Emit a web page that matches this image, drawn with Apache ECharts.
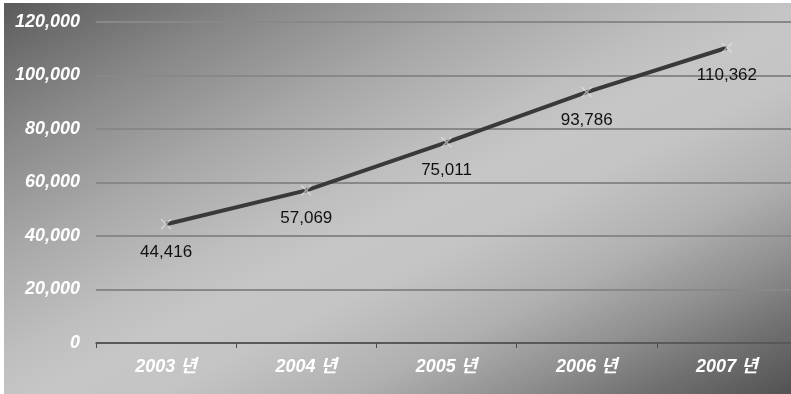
<!DOCTYPE html>
<html>
<head>
<meta charset="utf-8">
<script src="https://cdn.jsdelivr.net/npm/echarts@6/dist/echarts.min.js"></script>
<style>
html,body{margin:0;padding:0;background:#ffffff;}
#chart{width:791px;height:394px;}
</style>
</head>
<body>
<div id="chart"></div>
<script>
const categories = ['2003 년', '2004 년', '2005 년', '2006 년', '2007 년'];
const values = [44416, 57069, 75011, 93786, 110362];
const yMin = 0;
const yMax = 120000;
const yInterval = 20000;

const FONT = '"Liberation Sans", Arial, "Noto Sans CJK KR", sans-serif';
const chart = echarts.init(document.getElementById('chart'), null, {renderer: 'canvas'});

const option = {
  animation: false,
  graphic: [{
    type: 'rect',
    z: -100,
    silent: true,
    shape: {x: 4, y: 3, width: 787, height: 391},
    style: {
      fill: new echarts.graphic.LinearGradient(4, 3, 315.6, 630.2, [
        {offset: 0, color: '#5a5a5a'},
        {offset: 0.06, color: '#6c6c6c'},
        {offset: 0.19, color: '#8c8c8c'},
        {offset: 0.32, color: '#a8a8a8'},
        {offset: 0.45, color: '#bebebe'},
        {offset: 0.52, color: '#c6c6c6'},
        {offset: 0.6, color: '#c4c4c4'},
        {offset: 0.72, color: '#b0b0b0'},
        {offset: 0.82, color: '#909090'},
        {offset: 0.9, color: '#727272'},
        {offset: 1, color: '#525252'}
      ], true)
    }
  }],
  grid: {left: 96, right: -6, top: 22, bottom: 51, containLabel: false, outerBoundsMode: 'none'},
  xAxis: {
    type: 'category',
    data: categories,
    boundaryGap: true,
    axisLine: {show: true, lineStyle: {color: '#4a4a4a', width: 1.5}},
    axisTick: {show: true, length: 5, lineStyle: {color: '#4a4a4a', width: 1}},
    axisLabel: {
      color: '#ffffff', fontSize: 18, fontWeight: 'bold', fontStyle: 'italic',
      fontFamily: FONT, margin: 15
    },
    splitLine: {show: false}
  },
  yAxis: {
    type: 'value',
    min: yMin, max: yMax, interval: yInterval,
    axisLine: {show: false},
    axisTick: {show: false},
    axisLabel: {
      color: '#ffffff', fontSize: 18, fontWeight: 'bold', fontStyle: 'italic',
      fontFamily: FONT, margin: 16,
      formatter: v => v.toLocaleString('en-US')
    },
    splitLine: {show: true, lineStyle: {color: '#888888', width: 2}}
  },
  series: [{
    type: 'line',
    data: values,
    symbol: 'path://M0,1 L1,0 L5,4 L9,0 L10,1 L6,5 L10,9 L9,10 L5,6 L1,10 L0,9 L4,5 Z',
    symbolSize: 11,
    showSymbol: true,
    lineStyle: {color: '#393939', width: 4},
    itemStyle: {color: 'rgba(230,230,230,0.6)'},
    label: {
      show: true, position: 'bottom', distance: 14,
      color: '#111111', fontSize: 17, fontFamily: FONT,
      formatter: p => p.value.toLocaleString('en-US')
    },
    z: 3
  }]
};
chart.setOption(option);
</script>
</body>
</html>
